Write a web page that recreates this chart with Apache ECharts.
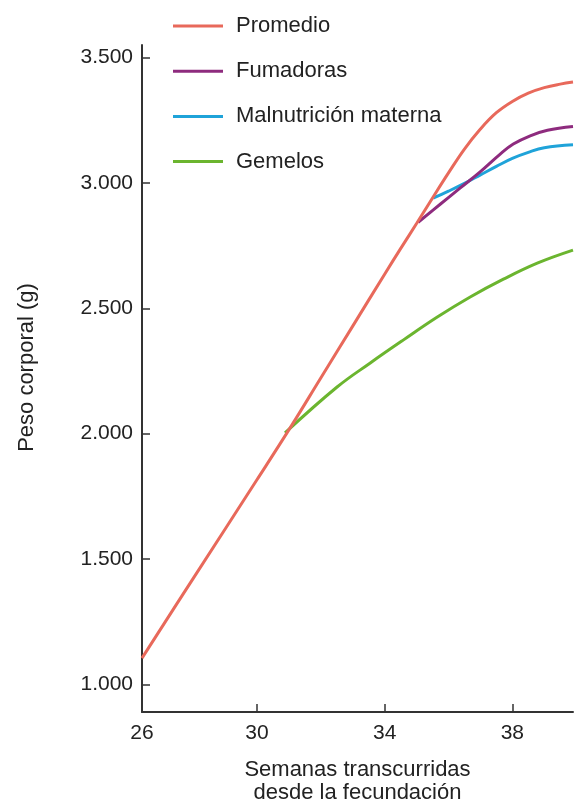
<!DOCTYPE html>
<html>
<head>
<meta charset="utf-8">
<script src="https://cdn.jsdelivr.net/npm/echarts@6/dist/echarts.min.js"></script>
<style>
  html, body { margin: 0; padding: 0; background: #fff; }
  #chart { width: 574px; height: 803px; }
</style>
</head>
<body>
<div id="chart"></div>
<script>
// weeks / grams
const promedio = [
  [26.4, 1105], [28, 1422], [30, 1816], [31, 2015], [32, 2222], [33, 2429],
  [34, 2636], [34.5, 2738], [35, 2838], [35.5, 2940], [36, 3040], [36.5, 3135],
  [37, 3215], [37.5, 3280], [38, 3325], [38.5, 3358], [39, 3380], [39.5, 3394], [39.9, 3402]
]
const fumadoras = [
  [35.05, 2843], [35.74, 2915], [36.37, 2980], [37, 3045], [37.62, 3115],
  [38.03, 3155], [38.56, 3188], [39.1, 3210], [39.9, 3225]
]
const malnutricion = [
  [35.52, 2939], [36, 2967], [36.5, 2998], [37, 3032], [37.5, 3066],
  [38, 3098], [38.5, 3122], [39, 3140], [39.9, 3152]
]
const gemelos = [
  [30.88, 2003], [32.51, 2186], [33.55, 2282], [34.58, 2373], [35.65, 2465],
  [36.68, 2545], [37.72, 2616], [38.78, 2680], [39.9, 2732]
]
const xLabelValues = [26.4, 30, 34, 38]
const xTickValues = [30, 34, 38]
const yTickValues = [1000, 1500, 2000, 2500, 3000, 3500]

const font = '"Liberation Sans", Arial, sans-serif'
const textColor = '#222'

const chart = echarts.init(document.getElementById('chart'))

function line(name, data, color, z) {
  return {
    name: name,
    type: 'line',
    data: data,
    smooth: 0.4,
    showSymbol: false,
    z: z,
    lineStyle: { color: color, width: 3 },
    itemStyle: { color: color }
  }
}

chart.setOption({
  animation: false,
  textStyle: { fontFamily: font },
  legend: {
    orient: 'vertical',
    left: 173,
    top: 14,
    padding: 0,
    icon: 'rect',
    itemWidth: 50,
    itemHeight: 3,
    itemGap: 21.2,
    data: ['Promedio', 'Fumadoras', 'Malnutrición materna', 'Gemelos'],
    textStyle: {
      fontFamily: font,
      fontSize: 22,
      lineHeight: 24,
      color: textColor,
      padding: [0, 0, 0, 8]
    }
  },
  grid: { left: 142, right: 1, top: 45, bottom: 91, outerBoundsMode: 'none' },
  xAxis: {
    type: 'value',
    min: 26.4,
    max: 39.9,
    name: 'Semanas transcurridas\ndesde la fecundación',
    nameLocation: 'middle',
    nameGap: 46,
    nameTextStyle: { fontFamily: font, fontSize: 22, lineHeight: 23, color: textColor },
    splitLine: { show: false },
    axisLine: { lineStyle: { color: '#333', width: 2 } },
    axisTick: {
      inside: true,
      length: 8,
      customValues: xTickValues,
      lineStyle: { color: '#333', width: 1.5 }
    },
    axisLabel: {
      customValues: xLabelValues,
      margin: 11,
      fontSize: 21,
      color: textColor,
      formatter: v => String(Math.round(v))
    }
  },
  yAxis: {
    type: 'value',
    min: 890,
    max: 3550,
    name: 'Peso corporal (g)',
    nameLocation: 'middle',
    nameRotate: 90,
    nameGap: 104,
    nameTextStyle: { fontFamily: font, fontSize: 22, color: textColor, padding: [0, 0, 0, 22] },
    splitLine: { show: false },
    axisLine: { show: true, lineStyle: { color: '#333', width: 2 } },
    axisTick: {
      show: true,
      inside: true,
      length: 8,
      customValues: yTickValues,
      lineStyle: { color: '#333', width: 1.5 }
    },
    axisLabel: {
      customValues: yTickValues,
      margin: 9,
      fontSize: 21,
      color: textColor,
      formatter: v => v.toLocaleString('de-DE')
    }
  },
  series: [
    line('Gemelos', gemelos, '#6bb52f', 2),
    line('Malnutrición materna', malnutricion, '#1fa3d9', 3),
    line('Fumadoras', fumadoras, '#8e2b7e', 4),
    line('Promedio', promedio, '#e8695b', 5)
  ]
})
</script>
</body>
</html>
